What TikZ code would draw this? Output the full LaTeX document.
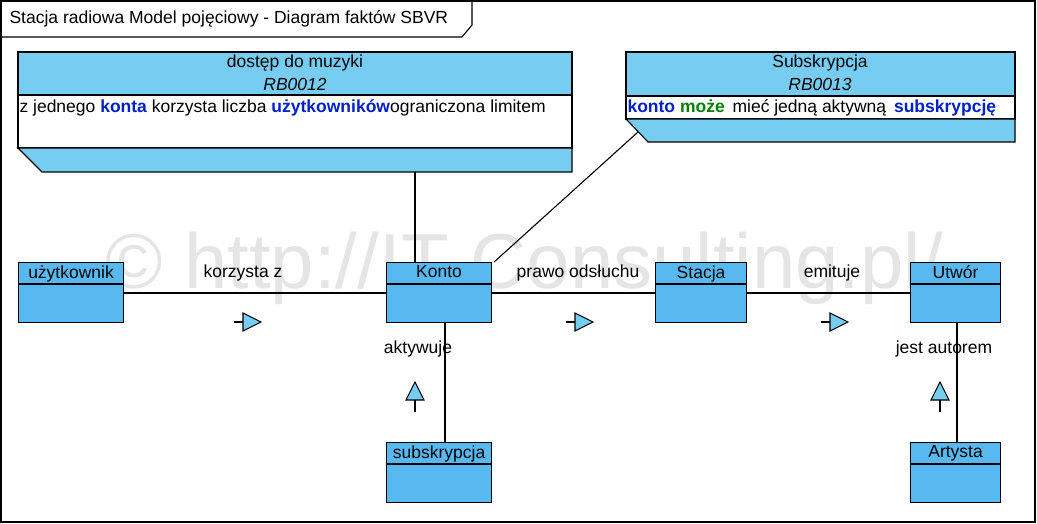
\documentclass[tikz,border=0pt]{standalone}
\usepackage{fontspec}
\setmainfont{Liberation Sans}
\usetikzlibrary{positioning,calc}
\definecolor{termblue}{RGB}{87,185,240}
\definecolor{headblue}{RGB}{119,204,242}
\definecolor{kwblue}{RGB}{0,32,200}
\definecolor{kwgreen}{RGB}{0,128,0}
\tikzset{
  term/.style={draw, fill=termblue, minimum width=#1, minimum height=60pt, inner sep=0pt},
  term/.default=105pt,
  dirtri/.style={draw, fill=headblue}
}
\begin{document}
\begin{tikzpicture}[x=1pt,y=-1pt,line width=1.1pt,font=\fontsize{17.5}{20}\selectfont]
\useasboundingbox (0,0) rectangle (1037,524);
% Frame
\draw (1,1) rectangle (1035,522);
\draw (1,37) -- (462,37) -- (472,25) -- (472,1);
\node[anchor=west, inner sep=2pt] (title) at (7,19) {Stacja radiowa Model pojęciowy - Diagram faktów SBVR};

% Watermark
\node[text=black!10, font=\fontsize{78}{84}\selectfont] (mark) at (524,268) {© http://IT-Consulting.pl/};

% Rule RB0012
\draw[fill=headblue] (18,52) rectangle (572,95);
\draw[fill=white] (18,95) rectangle (572,148);
\draw[fill=headblue] (18,148) -- (572,148) -- (572,172) -- (42,172) -- cycle;
\node (r1name) at (295,63) {dostęp do muzyki};
\node (r1id) at (295,84) {\itshape RB0012};
\node[anchor=west, inner sep=1pt] (r1text) at (18,108) {z jednego \textbf{\color{kwblue}konta} korzysta liczba \textbf{\color{kwblue}użytkowników}ograniczona limitem};
\coordinate (r1foot) at (415,172);

% Rule RB0013
\draw[fill=headblue] (626,52) rectangle (1015,96);
\draw[fill=white] (626,96) rectangle (1015,119);
\draw[fill=headblue] (626,119) -- (1015,119) -- (1015,142) -- (648,142) -- cycle;
\node (r2name) at (820,63) {Subskrypcja};
\node (r2id) at (820,84) {\itshape RB0013};
\node[anchor=west, inner sep=1pt] (r2text) at (626,108) {\textbf{\color{kwblue}konto} \textbf{\color{kwgreen}może} \,mieć jedną aktywną \,\textbf{\color{kwblue}subskrypcję}};
\coordinate (r2foot) at (638,132);

% Terms
\node[term, anchor=north west] (uzyt) at (18,262) {};
\node[term, anchor=north west] (konto) at (386,262) {};
\node[term=91pt, anchor=north west] (stacja) at (655,262) {};
\node[term=90pt, anchor=north west] (utwor) at (910,262) {};
\node[term, anchor=north west] (subs) at (386,442) {};
\node[term=90pt, anchor=north west] (artysta) at (910,442) {};
\foreach \n/\t in {uzyt/użytkownik, konto/Konto, stacja/Stacja, utwor/Utwór, subs/subskrypcja, artysta/Artysta} {
  \draw ($(\n.north west)+(0,22)$) -- ($(\n.north east)+(0,22)$);
  \node[anchor=north, inner sep=1pt] at ($(\n.north)+(0,2)$) {\t};
}

% Facts
\draw (uzyt.east |- 0,293) -- (konto.west |- 0,293);
\draw (konto.east |- 0,293) -- (stacja.west |- 0,293);
\draw (stacja.east |- 0,293) -- (utwor.west |- 0,293);
\draw (445,322) -- (subs.north -| 445,0);
\draw (957,322) -- (artysta.north -| 957,0);
\draw (r1foot) -- (konto.north -| r1foot);
\draw (r2foot) -- ($(konto.north east)+(2,0)$);

\node (f1) at (243,273) {korzysta z};
\node (f2) at (578,273) {prawo odsłuchu};
\node (f3) at (832,273) {emituje};
\node (f4) at (418,349) {aktywuje};
\node (f5) at (944,349) {jest autorem};

% Reading direction
\foreach \x in {248,580,835} {
  \draw (\x-14,322) -- (\x-5,322);
  \draw[dirtri] (\x-5,313) -- (\x+13,322) -- (\x-5,331) -- cycle;
}
\foreach \x in {415,940} {
  \draw (\x,412) -- (\x,400);
  \draw[dirtri] (\x-9,400) -- (\x,382) -- (\x+9,400) -- cycle;
}
\end{tikzpicture}
\end{document}
